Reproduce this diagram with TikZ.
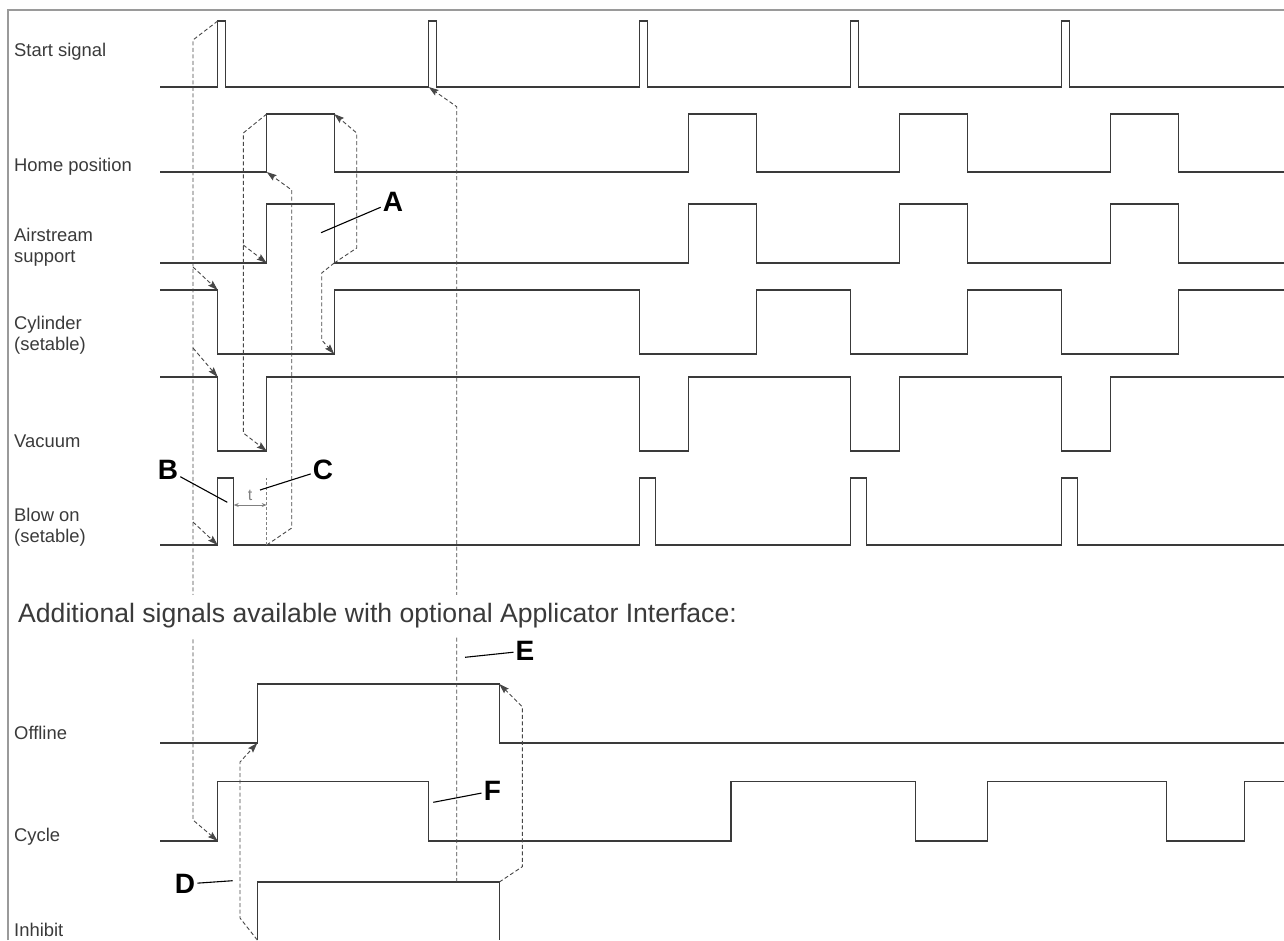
\documentclass[tikz,border=0pt]{standalone}
\usepackage{fontspec}
\setmainfont{Liberation Sans}
\usepackage{tikz}
\usetikzlibrary{arrows.meta,calc}
\definecolor{sig}{HTML}{3A3A3A}
\definecolor{dsh}{HTML}{474747}
\definecolor{frm}{HTML}{9A9A9A}
\tikzset{
  wave/.style={sig,line width=1.3pt},
  link/.style={dsh,line width=0.9pt,dash pattern=on 4pt off 2.5pt,
    -{Stealth[length=10pt,width=6.5pt,inset=1.5pt]}},
  lbl/.style={anchor=west,font=\fontsize{18.4}{20.5}\selectfont,text=sig,align=left,inner sep=0pt},
  letter/.style={font=\fontsize{28}{28}\selectfont\bfseries,inner sep=2pt},
  pointer/.style={black,line width=1.1pt}
}

\begin{document}
\begin{tikzpicture}[x=1pt,y=-1pt]
  \useasboundingbox (0,0) rectangle (1284,940);
  % cadre
  \draw[frm,line width=2pt] (8,940) -- (8,10) -- (1284,10);
  % noms des signaux
  \node[lbl] (lstart) at (14,52) {Start signal};
  \node[lbl] (lhome) at (14,167) {Home position};
  \node[lbl] (lair) at (14,247) {Airstream\\support};
  \node[lbl] (lcyl) at (14,335) {Cylinder\\(setable)};
  \node[lbl] (lvac) at (14,441) {Vacuum};
  \node[lbl] (lblow) at (14,527) {Blow on\\(setable)};
  \node[lbl] (loff) at (14,733) {Offline};
  \node[lbl] (lcyc) at (14,837) {Cycle};
  \node[lbl] (linh) at (14,930) {Inhibit};
  % chronogrammes
  \draw[wave] (160,87) \foreach \k in {0,...,4}{
    -- ({217.7+211*\k},87) -- ++(0,-66) -- ++(8,0) -- ++(0,66)} -- (1284,87);
  \draw[wave] (160,172) \foreach \k in {0,2,3,4}{
    -- ({266.7+211*\k},172) -- ++(0,-58) -- ++(67.5,0) -- ++(0,58)} -- (1284,172);
  \draw[wave] (160,263) \foreach \k in {0,2,3,4}{
    -- ({266.7+211*\k},263) -- ++(0,-59) -- ++(67.5,0) -- ++(0,59)} -- (1284,263);
  \draw[wave] (160,290) \foreach \k in {0,2,3,4}{
    -- ({217.7+211*\k},290) -- ++(0,64) -- ++(116.5,0) -- ++(0,-64)} -- (1284,290);
  \draw[wave] (160,377) \foreach \k in {0,2,3,4}{
    -- ({217.7+211*\k},377) -- ++(0,74) -- ++(49,0) -- ++(0,-74)} -- (1284,377);
  \draw[wave] (160,545) \foreach \k in {0,2,3,4}{
    -- ({217.7+211*\k},545) -- ++(0,-67) -- ++(16,0) -- ++(0,67)} -- (1284,545);
  \draw[wave] (160,743) -- (257.3,743) -- (257.3,684) -- (499.3,684) -- (499.3,743) -- (1284,743);
  \draw[wave] (160,841) -- (217.7,841) -- (217.7,781.5) -- (428.3,781.5) -- (428.3,841)
    -- (731,841) -- (731,781.5) -- (915.6,781.5) -- (915.6,841) -- (987.6,841)
    -- (987.6,781.5) -- (1166.4,781.5) -- (1166.4,841) -- (1244.3,841) -- (1244.3,781.5) -- (1284,781.5);
  \draw[wave] (257.3,940) -- (257.3,882) -- (499.3,882) -- (499.3,940);
  % fronts
  \coordinate (st1) at (217.7,21);
  \coordinate (st2) at (428.7,87);
  \coordinate (hmR) at (266.7,114);
  \coordinate (hmRb) at (266.7,172);
  \coordinate (hmF) at (334.2,114);
  \coordinate (arR) at (266.7,263);
  \coordinate (arF) at (334.2,263);
  \coordinate (cyF) at (217.7,290);
  \coordinate (cyR) at (334.2,354);
  \coordinate (vaF) at (217.7,377);
  \coordinate (vaR) at (266.7,451);
  \coordinate (blR) at (217.7,545);
  \coordinate (blT) at (266.7,545);
  \coordinate (blE) at (233.7,545);
  \coordinate (ofR) at (257.3,743);
  \coordinate (ofF) at (499.3,684);
  \coordinate (cyc) at (217.7,841);
  \coordinate (inR) at (257.3,940);
  \coordinate (inF) at (499.3,882);
  \coordinate (inE) at (456.7,882);
  % enchainements
  \draw[link] (st1) -- (193,40) -- (193,820) -- (cyc);
  \foreach \y/\t in {267/cyF,348/vaF,522/blR}
    \draw[link] (193,\y) -- (\t);
  \draw[link] (hmR) -- (243.3,133) -- (243.3,433) -- (vaR);
  \draw[link] (243.3,245) -- (arR);
  \draw[link] (blT) -- (291.7,528) -- (291.7,190) -- (hmRb);
  \draw[link] (arF) -- (356.7,248) -- (356.7,133) -- (hmF);
  \draw[link] (arF) -- (321.7,273) -- (321.7,340) -- (cyR);
  \draw[link] (inE) -- (456.7,106.7) -- (st2);
  \draw[link] (inR) -- (240,918) -- (240,762) -- (ofR);
  \draw[link] (inF) -- (522.3,866.7) -- (522.3,706.7) -- (ofF);
  % temps t
  \draw[gray,line width=0.8pt,dash pattern=on 3pt off 2pt] (blT) -- ++(0,-67);
  \draw[gray,line width=0.8pt,{Stealth[length=5pt,width=4pt]}-{Stealth[length=5pt,width=4pt]}]
    ($(blE)+(0,-40)$) -- ($(blT)+(0,-40)$) node[midway,above=1pt,font=\fontsize{16}{16}\selectfont,text=gray] (tlbl) {t};
  % texte
  \node[anchor=west,font=\fontsize{26.6}{30}\selectfont,text=sig,fill=white,inner xsep=2pt,inner ysep=9pt]
    (addl) at (16,616) {Additional signals available with optional Applicator Interface:};
  % reperes
  \node[letter] (A) at (393,202) {A};
  \node[letter] (B) at (168,470) {B};
  \node[letter] (C) at (323,470) {C};
  \node[letter] (D) at (185,884) {D};
  \node[letter] (E) at (525,651) {E};
  \node[letter] (F) at (492.3,791) {F};
  \coordinate (Ap) at (321,232.7);
  \coordinate (Bp) at (227.3,502.3);
  \coordinate (Cp) at (260,490);
  \coordinate (Dp) at (232.7,880.7);
  \coordinate (Ep) at (465,657.3);
  \coordinate (Fp) at (433.3,802.3);
  \foreach \n in {A,B,C,D,E,F}
    \draw[pointer] (\n p) -- (\n);
\end{tikzpicture}
\end{document}
